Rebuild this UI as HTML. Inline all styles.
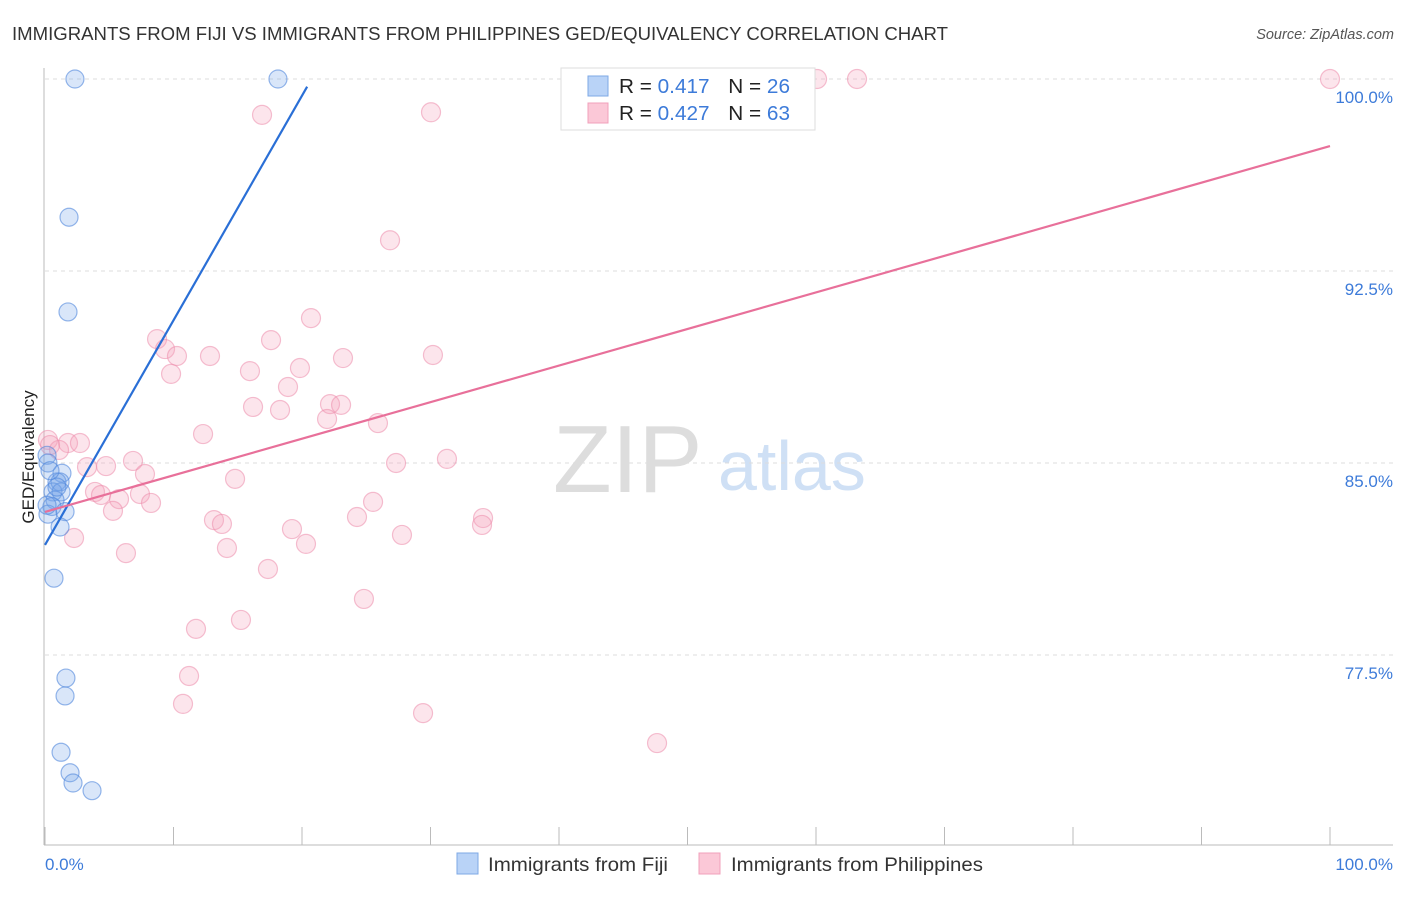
<!DOCTYPE html>
<html><head><meta charset="utf-8"><style>
body{margin:0;background:#fff;font-family:"Liberation Sans",sans-serif;}
svg text{font-family:"Liberation Sans",sans-serif;}
</style></head><body>
<svg id="chart" width="1406" height="892" xmlns="http://www.w3.org/2000/svg">
<text x="12" y="40" font-size="18" fill="#333" textLength="936" lengthAdjust="spacingAndGlyphs">IMMIGRANTS FROM FIJI VS IMMIGRANTS FROM PHILIPPINES GED/EQUIVALENCY CORRELATION CHART</text>
<text x="1394" y="39" font-size="14.5" fill="#555" font-style="italic" text-anchor="end">Source: ZipAtlas.com</text>
<g>
<text x="553" y="492" font-size="96" font-family="Liberation Serif,serif" fill="#ddd">ZIP</text>
<text x="718" y="490" font-size="70" fill="#cfe0f5">atlas</text>
</g>
<g id="grid"></g>
<line x1="44" y1="68" x2="44" y2="845" stroke="#bbb"/>
<line x1="44" y1="845" x2="1393" y2="845" stroke="#bbb"/>
<g id="ticks"></g>
<text transform="translate(34,457) rotate(-90)" font-size="17" fill="#222" text-anchor="middle">GED/Equivalency</text>
<text x="45" y="870" font-size="17" fill="#3d7bd9">0.0%</text>
<text x="1393" y="870" font-size="17" fill="#3d7bd9" text-anchor="end">100.0%</text>
<g id="pts"></g>
<g id="lines"></g>
<g>
<rect x="561" y="68" width="254" height="62" fill="#fff" stroke="#ddd"/>
<rect x="588" y="76" width="20" height="20" fill="#b9d3f7" stroke="#7ea8e6"/>
<rect x="588" y="103" width="20" height="20" fill="#fbc8d7" stroke="#f0a0bb"/>
<text x="619" y="93" font-size="20" fill="#222" textLength="171" lengthAdjust="spacingAndGlyphs">R = <tspan fill="#3d7bd9">0.417</tspan><tspan dx="18">N = </tspan><tspan fill="#3d7bd9">26</tspan></text>
<text x="619" y="120" font-size="20" fill="#222" textLength="171" lengthAdjust="spacingAndGlyphs">R = <tspan fill="#3d7bd9">0.427</tspan><tspan dx="18">N = </tspan><tspan fill="#3d7bd9">63</tspan></text>
</g>
<g>
<rect x="457" y="853" width="21" height="21" fill="#b9d3f7" stroke="#7ea8e6"/>
<text x="488" y="871" font-size="19.5" fill="#333" textLength="180" lengthAdjust="spacingAndGlyphs">Immigrants from Fiji</text></g>
<g>
<rect x="699" y="853" width="21" height="21" fill="#fbc8d7" stroke="#f0a0bb"/>
<text x="731" y="871" font-size="19.5" fill="#333" textLength="252" lengthAdjust="spacingAndGlyphs">Immigrants from Philippines</text></g>
</svg>
<script>
const yTicks=[100,92.5,85,77.5];
const yTickLabels=["100.0%","92.5%","85.0%","77.5%"];
const xTicks=[0,10,20,30,40,50,60,70,80,90,100];
const fijiX=[2.33,18.13,1.87,1.79,0.16,0.23,1.32,0.93,1.17,0.62,1.25,0.78,0.54,0.23,1.56,1.17,0.70,1.63,1.56,1.25,1.95,2.18,3.66,0.16,0.93,0.39];
const fijiY=[100,100,94.6,90.9,85.3,85.0,84.6,84.26,84.26,83.87,83.87,83.55,83.3,83.0,83.1,82.5,80.5,76.6,75.9,73.7,72.9,72.5,72.2,83.35,84.06,84.7];
const philX=[60.08,63.19,100,16.89,30.04,26.85,20.70,8.72,9.34,10.27,12.84,17.59,23.19,30.19,9.81,15.95,19.84,18.91,16.19,18.29,22.18,23.04,21.95,25.91,12.30,0.23,1.79,2.72,1.09,6.85,4.75,3.27,7.78,14.79,27.32,31.28,3.89,4.36,5.76,7.39,8.25,25.53,5.29,13.15,13.77,24.28,34.09,34.01,19.22,20.31,27.78,2.26,6.30,14.16,17.35,24.82,11.75,15.25,11.21,10.74,29.42,47.63,0.39];
const philY=[100,100,100,98.6,98.7,93.7,90.66,89.84,89.45,89.18,89.18,89.8,89.1,89.22,88.48,88.59,88.71,87.97,87.19,87.07,87.3,87.27,86.72,86.56,86.13,85.9,85.78,85.78,85.51,85.08,84.88,84.84,84.57,84.38,85.0,85.16,83.87,83.75,83.59,83.79,83.44,83.48,83.13,82.77,82.62,82.89,82.85,82.58,82.42,81.84,82.19,82.07,81.48,81.68,80.86,79.69,78.52,78.87,76.68,75.59,75.23,74.06,85.7];
const fijiTrend=[[0,81.8],[20.4,99.7]];
const philTrend=[[0,83.09],[100,97.38]];
const NS="http://www.w3.org/2000/svg";
const sx=v=>45+v*12.85, sy=v=>79+(100-v)*25.6;
function mk(tag,attrs,parent){const e=document.createElementNS(NS,tag);for(const k in attrs)e.setAttribute(k,attrs[k]);parent.appendChild(e);return e;}
const grid=document.getElementById('grid');
yTicks.forEach((t,i)=>{
 const l=mk('line',{x1:45,x2:1393,y1:sy(t),y2:sy(t),stroke:'#ddd','stroke-dasharray':'4,4'},grid);
 
 
 const tx=mk('text',{x:1393,y:sy(t)+24,'font-size':17,fill:'#3d7bd9','text-anchor':'end'},grid);
 tx.textContent=yTickLabels[i];
 
 
});
const ticks=document.getElementById('ticks');
xTicks.forEach(t=>{
 const l=mk('line',{x1:sx(t),x2:sx(t),y1:827,y2:845,stroke:'#bbb'},ticks);
 
 
});
const pts=document.getElementById('pts');
philX.forEach((x,i)=>{
 const c=mk('circle',{cx:sx(x),cy:sy(philY[i]),r:9.5,fill:'rgba(245,160,188,0.28)',stroke:'rgba(236,140,172,0.55)','stroke-width':1.2},pts);
 
 
});
fijiX.forEach((x,i)=>{
 const c=mk('circle',{cx:sx(x),cy:sy(fijiY[i]),r:9,fill:'rgba(120,165,235,0.28)',stroke:'rgba(80,135,220,0.6)','stroke-width':1.2},pts);
 
 
});
const lines=document.getElementById('lines');
const l1=mk('line',{x1:sx(fijiTrend[0][0]),y1:sy(fijiTrend[0][1]),x2:sx(fijiTrend[1][0]),y2:sy(fijiTrend[1][1]),stroke:'#2a6fd6','stroke-width':2.2},lines);


const l2=mk('line',{x1:sx(philTrend[0][0]),y1:sy(philTrend[0][1]),x2:sx(philTrend[1][0]),y2:sy(philTrend[1][1]),stroke:'#e8709a','stroke-width':2.2},lines);


</script>
</body></html>
